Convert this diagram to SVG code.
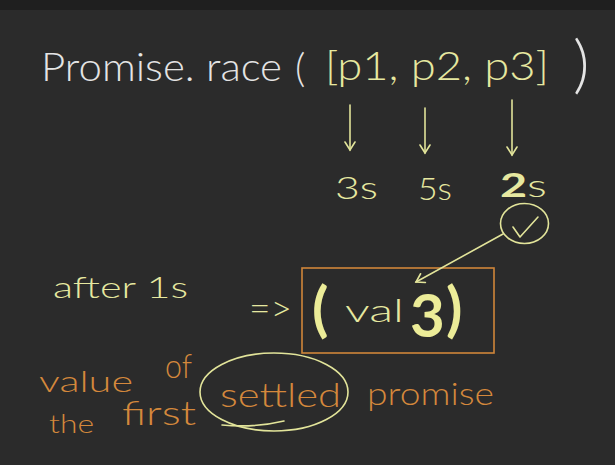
<svg xmlns="http://www.w3.org/2000/svg" width="615" height="465" viewBox="0 0 615 465">
<defs>
<style>
text{font-family:Lato,"Open Sans","DejaVu Sans",sans-serif;font-weight:300;}
.w{fill:#e4e4e4;}
.y{fill:#e6e8a0;}
.o{fill:#d4883c;}
.yb{fill:#ecec98;font-weight:700;}
.ys{stroke:#e2e49a;stroke-width:1.6;fill:none;stroke-linecap:round;stroke-linejoin:round;}
.os{stroke:#d0863a;stroke-width:1.6;fill:none;}
</style>
<marker id="ah" viewBox="0 0 12 12" refX="10" refY="6" markerWidth="12" markerHeight="12" markerUnits="userSpaceOnUse" orient="auto">
<path d="M2,1 L10,6 L2,11" fill="none" stroke="#e2e49a" stroke-width="1.6" stroke-linecap="round"/>
</marker>
</defs>
<rect width="615" height="465" fill="#2b2b2b"/>
<rect width="615" height="10" fill="#1f1f1f"/>

<g id="call">
<text class="w" x="41" y="81" font-size="40" textLength="241" lengthAdjust="spacingAndGlyphs">Promise. race</text>
<text class="w" x="295" y="82" font-size="40">(</text>
<text class="y" x="325" y="80" font-size="40" textLength="224" lengthAdjust="spacingAndGlyphs">[p1, p2, p3]</text>
<text class="w" x="573" y="86" font-size="64">)</text>
</g>

<g id="t1"><text class="y" x="335" y="199" font-size="32" textLength="43" lengthAdjust="spacingAndGlyphs">3s</text></g>
<g id="t2"><text class="y" x="418" y="200" font-size="32" textLength="34" lengthAdjust="spacingAndGlyphs">5s</text></g>
<g id="t3"><text class="y" x="500" y="197" font-size="32" textLength="47" lengthAdjust="spacingAndGlyphs"><tspan font-weight="700">2</tspan>s</text></g>

<g id="check">
<ellipse class="ys" cx="524.5" cy="223.5" rx="24" ry="20"/>
<path class="ys" d="M513,227 L520,237 L538,217"/>
</g>

<g id="after"><text class="y" x="53" y="298" font-size="30" textLength="135" lengthAdjust="spacingAndGlyphs">after 1s</text></g>
<g id="implies"><text class="y" x="249" y="321" font-size="36" textLength="43" lengthAdjust="spacingAndGlyphs">=&gt;</text></g>

<g id="result">
<rect class="os" x="302" y="268" width="192" height="85"/>
<text class="yb" x="312" y="330" font-size="60">(</text>
<text class="y" x="345" y="322" font-size="32" textLength="59" lengthAdjust="spacingAndGlyphs">val</text>
<text class="yb" x="410" y="337" font-size="60">3</text>
<text class="yb" x="446" y="330" font-size="60">)</text>
</g>

<g id="note">
<text class="o" x="39" y="392" font-size="30" textLength="94" lengthAdjust="spacingAndGlyphs">value</text>
<text class="o" x="165" y="378" font-size="34" textLength="27" lengthAdjust="spacingAndGlyphs">of</text>
<text class="o" x="49" y="433" font-size="26" textLength="45" lengthAdjust="spacingAndGlyphs">the</text>
<text class="o" x="122" y="425" font-size="34" textLength="74" lengthAdjust="spacingAndGlyphs">first</text>
<text class="o" x="220" y="407" font-size="34" textLength="121" lengthAdjust="spacingAndGlyphs">settled</text>
<text class="o" x="367" y="405" font-size="32" textLength="127" lengthAdjust="spacingAndGlyphs">promise</text>
<ellipse class="ys" cx="274" cy="392" rx="74" ry="39"/>
<path class="ys" d="M222,425 Q255,428 284,421"/>
</g>

<g id="connectors">
<line class="ys" x1="350" y1="105" x2="350" y2="150" marker-end="url(#ah)"/>
<line class="ys" x1="425" y1="108" x2="425" y2="153" marker-end="url(#ah)"/>
<line class="ys" x1="512" y1="100" x2="512" y2="155" marker-end="url(#ah)"/>
<line class="ys" x1="503" y1="234" x2="416" y2="282" marker-end="url(#ah)"/>
</g>
</svg>
